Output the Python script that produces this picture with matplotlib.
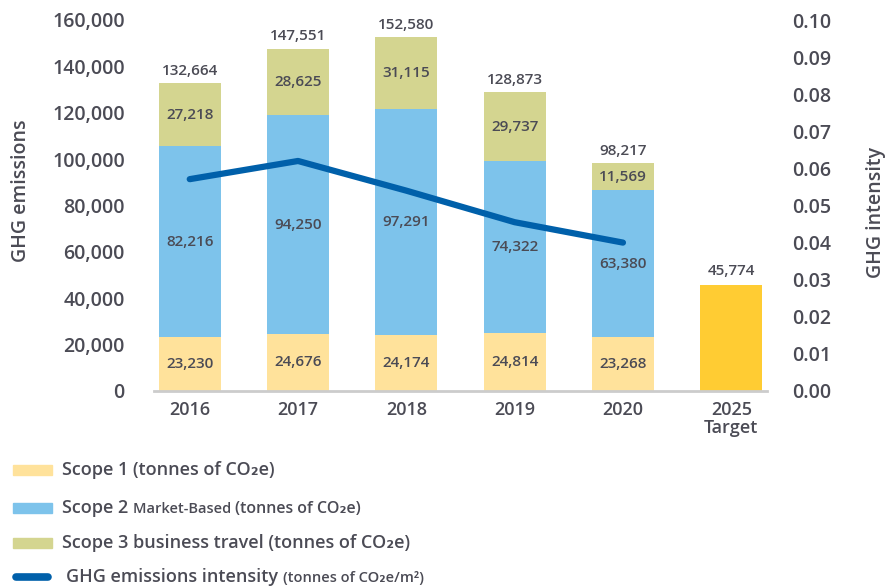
import matplotlib
matplotlib.use("Agg")
import matplotlib.pyplot as plt
from matplotlib.patches import Rectangle
from matplotlib.lines import Line2D
from matplotlib.offsetbox import TextArea, HPacker, AnnotationBbox
import numpy as np

# chart data
years = ['2016', '2017', '2018', '2019', '2020', '2025\nTarget']
scope1 = [23230, 24676, 24174, 24814, 23268]
scope2 = [82216, 94250, 97291, 74322, 63380]
scope3 = [27218, 28625, 31115, 29737, 11569]
totals = [132664, 147551, 152580, 128873, 98217]
target = 45774
intensity = [0.0571, 0.0620, 0.0540, 0.0455, 0.0400]

C_S1 = '#FFE29B'
C_S2 = '#7DC3EB'
C_S3 = '#D4D590'
C_TGT = '#FFCC33'
C_LINE = '#0060AA'
TXT = '#4B4B55'

plt.rcParams['font.family'] = ['Open Sans', 'DejaVu Sans']
plt.rcParams['font.weight'] = 'semibold'

fig = plt.figure(figsize=(8.88, 5.87), dpi=100)
ax = fig.add_axes([154 / 888, 1 - 391 / 587, 613 / 888, 371 / 587])

x = np.arange(len(scope1))
w = 0.57
s12 = np.array(scope1) + np.array(scope2)
ax.bar(x, scope1, w, color=C_S1, zorder=2)
ax.bar(x, scope2, w, bottom=scope1, color=C_S2, zorder=2)
ax.bar(x, scope3, w, bottom=s12, color=C_S3, zorder=2)
ax.bar(len(scope1), target, w, color=C_TGT, zorder=2)

lab = dict(ha='center', va='center', color=TXT, fontsize=11, fontweight='semibold')
for i in x:
    ax.text(i, scope1[i] / 2, f'{scope1[i]:,}', **lab)
    ax.text(i, scope1[i] + scope2[i] / 2, f'{scope2[i]:,}', **lab)
    ax.text(i, s12[i] + scope3[i] / 2, f'{scope3[i]:,}', **lab)
    ax.annotate(f'{totals[i]:,}', (i, totals[i]), xytext=(0, 9),
                textcoords='offset points', **lab)
ax.annotate(f'{target:,}', (len(scope1), target), xytext=(0, 10),
            textcoords='offset points', **lab)

ax.set_xlim(-0.33, 5.33)
ax.set_ylim(0, 160000)
ax.set_yticks(np.arange(0, 160001, 20000))
ax.set_yticklabels([f'{v:,}' for v in range(0, 160001, 20000)])
ax.set_xticks(np.arange(len(years)))
ax.set_xticklabels(years, linespacing=1.0)
ax.tick_params(axis='y', length=0, pad=21, labelsize=14, labelcolor=TXT)
ax.tick_params(axis='x', length=0, pad=7, labelsize=13, labelcolor=TXT)
for s in ['top', 'left', 'right']:
    ax.spines[s].set_visible(False)
ax.spines['bottom'].set_color('#CCCCCC')
ax.spines['bottom'].set_linewidth(2)
ax.set_ylabel('GHG emissions', fontsize=14, color=TXT, fontweight='semibold')
ax.yaxis.set_label_coords(-0.20, 0.54)

ax2 = ax.twinx()
ax2.plot(x, intensity, color=C_LINE, lw=4.5, solid_capstyle='round',
         solid_joinstyle='round', zorder=5)
ax2.set_ylim(0, 0.1)
ax2.set_yticks(np.arange(0, 0.101, 0.01))
ax2.set_yticklabels([f'{v:.2f}' for v in np.arange(0, 0.101, 0.01)])
ax2.tick_params(axis='y', length=0, pad=18, labelsize=14, labelcolor=TXT)
for s in ['top', 'left', 'right', 'bottom']:
    ax2.spines[s].set_visible(False)
ax2.set_ylabel('GHG intensity', fontsize=14, color=TXT, fontweight='semibold')
ax2.yaxis.set_label_coords(1.162, 0.48)

# legend drawn by hand because of the mixed font sizes
legend_rows = [
    ([('Scope 1 (tonnes of CO₂e)', 13)], 'patch', C_S1, 470),
    ([('Scope 2 ', 13), ('Market-Based ', 10.5), ('(tonnes of CO₂e)', 11.5)], 'patch', C_S2, 508),
    ([('Scope 3 business travel (tonnes of CO₂e)', 13)], 'patch', C_S3, 543),
    ([('GHG emissions intensity ', 13), ('(tonnes of CO₂e/m²)', 10.5)], 'line', C_LINE, 577),
]
for parts, kind, col, ypx in legend_rows:
    yf = 1 - ypx / 587
    if kind == 'patch':
        fig.add_artist(Rectangle((13 / 888, yf - 5 / 587), 39 / 888, 10 / 587,
                                 color=col, transform=fig.transFigure))
        x0 = 62
    else:
        fig.add_artist(Line2D([16 / 888, 48 / 888], [yf, yf], color=col, lw=5.5,
                              solid_capstyle='round', transform=fig.transFigure))
        x0 = 66
    boxes = [TextArea(t, textprops=dict(fontsize=fs, color=TXT, fontweight='semibold'))
             for t, fs in parts]
    pack = HPacker(children=boxes, align='baseline', pad=0, sep=0)
    ab = AnnotationBbox(pack, (x0, 587 - ypx), xycoords='figure pixels',
                        box_alignment=(0, 0.5), frameon=False, pad=0)
    fig.add_artist(ab)

fig.savefig('out.png', dpi=100)
